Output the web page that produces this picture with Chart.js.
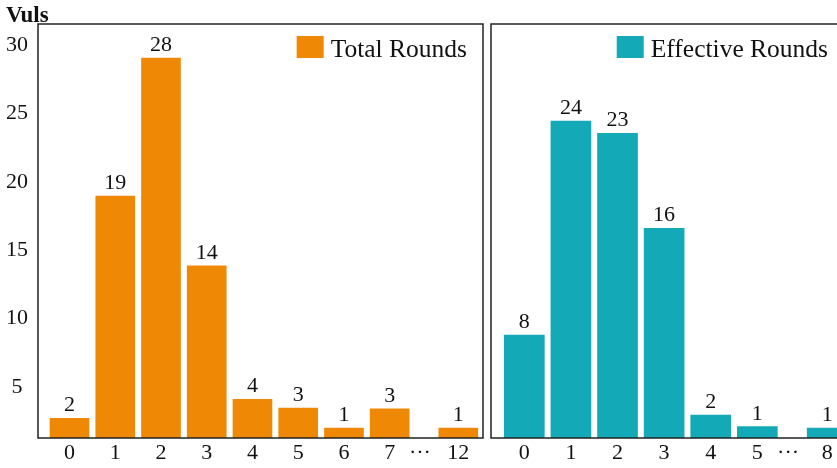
<!DOCTYPE html>
<html>
<head>
<meta charset="utf-8">
<script src="https://cdn.jsdelivr.net/npm/chart.js@4.4.1/dist/chart.umd.min.js"></script>
<style>
  html, body { margin: 0; padding: 0; background: #fff; overflow: hidden; }
  body { width: 837px; height: 468px; position: relative; }
  canvas { position: absolute; top: 0; }
  #totalChart { left: 0; }
  #effChart { left: 483px; }
</style>
</head>
<body>
<canvas id="totalChart" width="488" height="468"></canvas>
<canvas id="effChart" width="365" height="468"></canvas>
<script>
/* =========================
   DATA
========================= */
const totalRounds = ["0", "1", "2", "3", "4", "5", "6", "7", "12"];
const totalVuls   = [2, 19, 28, 14, 4, 3, 1, 3, 1];                        // printed counts
const totalBars   = [2.7, 18.95, 29.05, 13.85, 4.1, 3.45, 2.0, 3.4, 2.0];  // bar heights as drawn

const effRounds = ["0", "1", "2", "3", "4", "5", "8"];
const effVuls   = [8, 24, 23, 16, 2, 1, 1];
const effBars   = [8.8, 24.45, 23.55, 16.6, 2.95, 2.1, 2.0];

const yTicks = [5, 10, 15, 20, 25, 30];
const breakLabel = "···";

const SERIF = "Liberation Serif";

/* =========================
   PLUGINS
========================= */
// frame around the plot area
const framePlugin = {
  id: "frame",
  afterDatasetsDraw(chart) {
    const { ctx, chartArea: a } = chart;
    ctx.save();
    ctx.strokeStyle = "#222";
    ctx.lineWidth = 1.5;
    ctx.strokeRect(a.left, a.top, a.right - a.left, a.bottom - a.top);
    ctx.restore();
  }
};

// numbers over the bars + legend in the top right corner
const labelPlugin = {
  id: "barLabels",
  afterDatasetsDraw(chart, args, opts) {
    const { ctx, chartArea: a } = chart;
    const ds = chart.data.datasets[0];
    const meta = chart.getDatasetMeta(0);
    ctx.save();
    ctx.fillStyle = "#111";
    ctx.font = "22px '" + SERIF + "'";
    ctx.textAlign = "center";
    ctx.textBaseline = "alphabetic";
    meta.data.forEach((bar, i) => {
      ctx.fillText(String(opts.counts[i]), bar.x, bar.y - 7);
    });

    ctx.font = "25.5px '" + SERIF + "'";
    ctx.textAlign = "left";
    const w = ctx.measureText(ds.label).width;
    const tx = a.right - 16 - w;
    ctx.fillText(ds.label, tx, a.top + 33);
    ctx.fillStyle = ds.backgroundColor;
    ctx.fillRect(tx - 7 - 27, a.top + 12, 27, 22);

    if (opts.yTitle) {
      ctx.fillStyle = "#111";
      ctx.font = "bold 23px '" + SERIF + "'";
      ctx.fillText(opts.yTitle, 6, 22);
    }
    ctx.restore();
  }
};

/* =========================
   CHART BUILDER
========================= */
function makeChart(id, cats, counts, bars, cfg) {
  // categories after the break sit half a slot further right
  const breakAt = cats.length - 1;
  const pos = cats.map((c, i) => (i < breakAt ? i : i + 0.5));
  const tickPos = pos.slice(0, breakAt).concat([breakAt - 0.34, pos[breakAt]]);
  const tickText = cats.slice(0, breakAt).concat([breakLabel, cats[breakAt]]);

  return new Chart(document.getElementById(id), {
    type: "bar",
    data: {
      datasets: [{
        label: cfg.label,
        data: bars.map((v, i) => ({ x: pos[i], y: v })),
        backgroundColor: cfg.color,
        borderWidth: 0,
        barThickness: cfg.barThickness
      }]
    },
    options: {
      responsive: false,
      animation: false,
      events: [],
      layout: { padding: cfg.padding },
      plugins: {
        legend: { display: false },
        tooltip: { enabled: false },
        barLabels: { counts: counts, yTitle: cfg.yTitle }
      },
      scales: {
        x: {
          type: "linear",
          position: "bottom",
          min: cfg.xMin,
          max: cfg.xMax,
          offset: false,
          bounds: "data",
          grid: { display: false, drawTicks: false },
          border: { display: false },
          afterBuildTicks: s => { s.ticks = tickPos.map(v => ({ value: v })); },
          afterFit: s => { s.height = 30; },
          ticks: {
            autoSkip: false,
            maxRotation: 0,
            padding: 2,
            color: "#111",
            font: { family: SERIF, size: 22 },
            callback: (v, i) => tickText[i]
          }
        },
        y: {
          display: cfg.showY,
          min: 1.27,
          max: 31.54,
          grid: { display: false, drawTicks: false },
          border: { display: false },
          afterBuildTicks: s => { s.ticks = yTicks.map(v => ({ value: v })); },
          afterFit: s => { if (cfg.showY) s.width = 38; },
          ticks: {
            padding: 10,
            crossAlign: "center",
            color: "#111",
            font: { family: SERIF, size: 22 }
          }
        }
      }
    },
    plugins: [framePlugin, labelPlugin]
  });
}

/* =========================
   CHARTS
========================= */
makeChart("totalChart", totalRounds, totalVuls, totalBars, {
  label: "Total Rounds",
  color: "#EF8905",
  barThickness: 39,
  xMin: -0.689,
  xMax: 9.04,
  showY: true,
  yTitle: "Vuls",
  padding: { top: 24, right: 5, left: 0, bottom: 0 }
});

makeChart("effChart", effRounds, effVuls, effBars, {
  label: "Effective Rounds",
  color: "#13A9B7",
  barThickness: 40,
  xMin: -0.715,
  xMax: 6.86,
  showY: false,
  padding: { top: 24, right: 4, left: 8, bottom: 0 }
});
</script>
</body>
</html>
